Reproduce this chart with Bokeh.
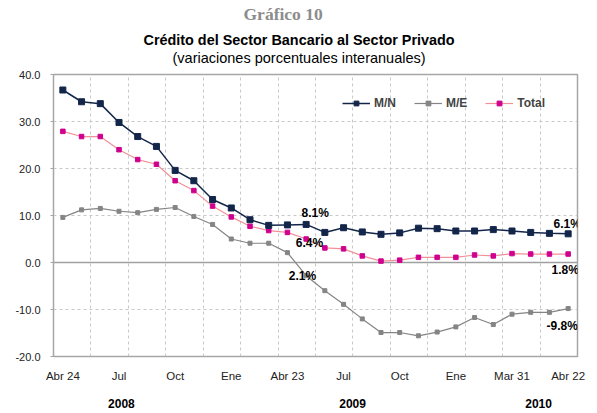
from bokeh.plotting import figure
from bokeh.models import (Range1d, FixedTicker, Grid, Legend, LegendItem, Title,
                          LabelSet, ColumnDataSource, NumeralTickFormatter, LinearAxis)
from bokeh.core.properties import value
from bokeh.embed import file_html
from bokeh.resources import INLINE
import numpy as np

# ---------------- data ----------------
mn = [36.7, 34.2, 33.8, 29.8, 26.8, 24.7, 19.6, 17.4, 13.4, 11.6, 9.1, 7.9, 8.0, 8.1,
      6.4, 7.4, 6.5, 6.0, 6.3, 7.3, 7.2, 6.7, 6.7, 7.0, 6.7, 6.4, 6.2, 6.1]
me = [9.6, 11.2, 11.5, 10.9, 10.6, 11.3, 11.7, 9.8, 8.1, 5.0, 4.1, 4.1, 2.1, -2.8,
      -6.0, -8.9, -12.0, -14.9, -14.9, -15.6, -14.8, -13.7, -11.7, -13.2, -11.0, -10.6, -10.6, -9.8]
total = [27.9, 26.8, 26.8, 24.0, 21.9, 20.9, 17.4, 15.3, 12.0, 9.7, 7.7, 6.8, 6.4, 5.0,
         3.1, 2.9, 1.4, 0.3, 0.5, 1.1, 1.1, 1.1, 1.6, 1.4, 1.9, 1.8, 1.8, 1.8]

tick_index = [0, 3, 6, 9, 12, 15, 18, 21, 24, 27]
tick_labels = ["Abr 24", "Jul", "Oct", "Ene", "Abr 23", "Jul", "Oct", "Ene", "Mar 31", "Abr 22"]

years = ["2008", "2009", "2010"]
year_pos = [3.13, 15.48, 25.42]   # in category-index units

y_ticks = [-20, -10, 0, 10, 20, 30, 40]

# annotations: (series, index, text, dx, dy)  dy: screen pixels, up positive
annots = [("mn", 13, "8.1%", 9, 11),
          ("total", 12, "6.4%", 22, -11),
          ("me", 12, "2.1%", 15, -23),
          ("mn", 27, "6.1%", -1, 10),
          ("total", 27, "1.8%", -3, -16),
          ("me", 27, "-9.8%", -6, -17)]

# ---------------- figure ----------------
n = len(mn)
x = np.arange(n) + 0.5
series = {"mn": mn, "me": me, "total": total}

p = figure(width=597, height=413, x_range=Range1d(0, n), y_range=Range1d(-20, 40),
           output_backend="svg", toolbar_location=None,
           min_border_left=53, min_border_right=20, min_border_top=74, min_border_bottom=57)
p.background_fill_color = "white"
p.border_fill_color = "white"
p.outline_line_color = "#A6A6A6"
p.outline_line_width = 1.5

# titles (first added is nearest to the plot); a blank one acts as spacing
p.add_layout(Title(text=" ", standoff=0, text_font_size="7px"), "above")
p.add_layout(Title(text="(variaciones porcentuales interanuales)", align="left", offset=119,
                   vertical_align="bottom", standoff=0, text_font="Liberation Sans",
                   text_font_style="normal", text_font_size="14.5px", text_color="black"), "above")
p.add_layout(Title(text="Crédito del Sector Bancario al Sector Privado", align="left", offset=90,
                   vertical_align="bottom", standoff=0, text_font="Liberation Sans",
                   text_font_style="bold", text_font_size="14.4px", text_color="black"), "above")
p.add_layout(Title(text="Gráfico 10", align="left", offset=190,
                   vertical_align="top", standoff=6.5, text_font="Liberation Serif",
                   text_font_style="bold", text_font_size="17.5px", text_color="#8C8C8C"), "above")

# axes
p.xaxis.ticker = FixedTicker(ticks=[i + 0.5 for i in tick_index])
p.xaxis.major_label_overrides = {i + 0.5: t for i, t in zip(tick_index, tick_labels)}
p.xaxis.major_tick_line_color = None
p.xaxis.major_tick_out = 0
p.xaxis.minor_tick_line_color = None
p.xaxis.axis_line_color = "#A6A6A6"
p.xaxis.major_label_standoff = 13
p.xaxis.major_label_text_font = "Liberation Sans"
p.xaxis.major_label_text_font_size = "11.5px"
p.xaxis.major_label_text_color = "#222222"

year_axis = LinearAxis(ticker=FixedTicker(ticks=[v + 0.5 for v in year_pos]),
                       major_label_overrides={v + 0.5: t for v, t in zip(year_pos, years)},
                       axis_line_color=None, major_tick_line_color=None, major_tick_out=0,
                       minor_tick_line_color=None, major_label_standoff=14,
                       major_label_text_font="Liberation Sans",
                       major_label_text_font_style="bold",
                       major_label_text_font_size="12px", major_label_text_color="black")
p.add_layout(year_axis, "below")

p.yaxis.ticker = FixedTicker(ticks=y_ticks)
p.yaxis.formatter = NumeralTickFormatter(format="0.0")
p.yaxis.major_tick_out = 3
p.yaxis.major_tick_in = 0
p.yaxis.major_tick_line_color = "#A6A6A6"
p.yaxis.minor_tick_line_color = None
p.yaxis.axis_line_color = "#A6A6A6"
p.yaxis.major_label_standoff = 10
p.yaxis.major_label_text_font = "Liberation Sans"
p.yaxis.major_label_text_font_size = "11px"
p.yaxis.major_label_text_color = "#222222"

# grids
p.xgrid.ticker = FixedTicker(ticks=list(range(2, n, 2)))
p.xgrid.grid_line_color = "#C8C8C8"
p.xgrid.grid_line_dash = "3 3"
p.ygrid.ticker = FixedTicker(ticks=[t for t in y_ticks if t not in (0, -20, 40)])
p.ygrid.grid_line_color = "#C8C8C8"
p.ygrid.grid_line_dash = "3 3"
zero_grid = Grid(dimension=1, ticker=FixedTicker(ticks=[0]),
                 grid_line_color="#A0A0A0", grid_line_width=1.5)
p.add_layout(zero_grid)

# series
l_me = p.line(x, me, line_color="#858585", line_width=1.2)
s_me = p.scatter(x, me, marker="square", size=4, fill_color="#858585", line_color="#858585")
l_tot = p.line(x, total, line_color="#F09098", line_width=1.2)
s_tot = p.scatter(x, total, marker="square", size=4.5, fill_color="#D0008F", line_color="#D0008F")
l_mn = p.line(x, mn, line_color="#13264A", line_width=1.5)
s_mn = p.scatter(x, mn, marker="square", size=6, fill_color="#13264A", line_color="#13264A")

legend = Legend(items=[LegendItem(label="M/N", renderers=[l_mn, s_mn]),
                       LegendItem(label="M/E", renderers=[l_me, s_me]),
                       LegendItem(label="Total", renderers=[l_tot, s_tot])],
                orientation="horizontal", location=(289, 246),
                border_line_color=None, background_fill_alpha=0,
                padding=0, margin=0, spacing=18, glyph_width=28, glyph_height=12,
                label_standoff=4, label_text_font="Liberation Sans",
                label_text_font_style="bold", label_text_font_size="12px",
                label_height=12)
p.add_layout(legend)

# value annotations
asrc = ColumnDataSource(dict(
    x=[x[i] for _, i, _, _, _ in annots],
    y=[series[s][i] for s, i, _, _, _ in annots],
    text=[t for _, _, t, _, _ in annots],
    dx=[d for _, _, _, d, _ in annots],
    dy=[d for _, _, _, _, d in annots]))
p.add_layout(LabelSet(x="x", y="y", text="text", x_offset="dx", y_offset="dy", source=asrc,
                      text_align="center", text_baseline="middle",
                      text_font=value("Liberation Sans"), text_font_style="bold",
                      text_font_size="12px", text_color="black"))

open("out.html", "w").write(file_html(p, INLINE))
